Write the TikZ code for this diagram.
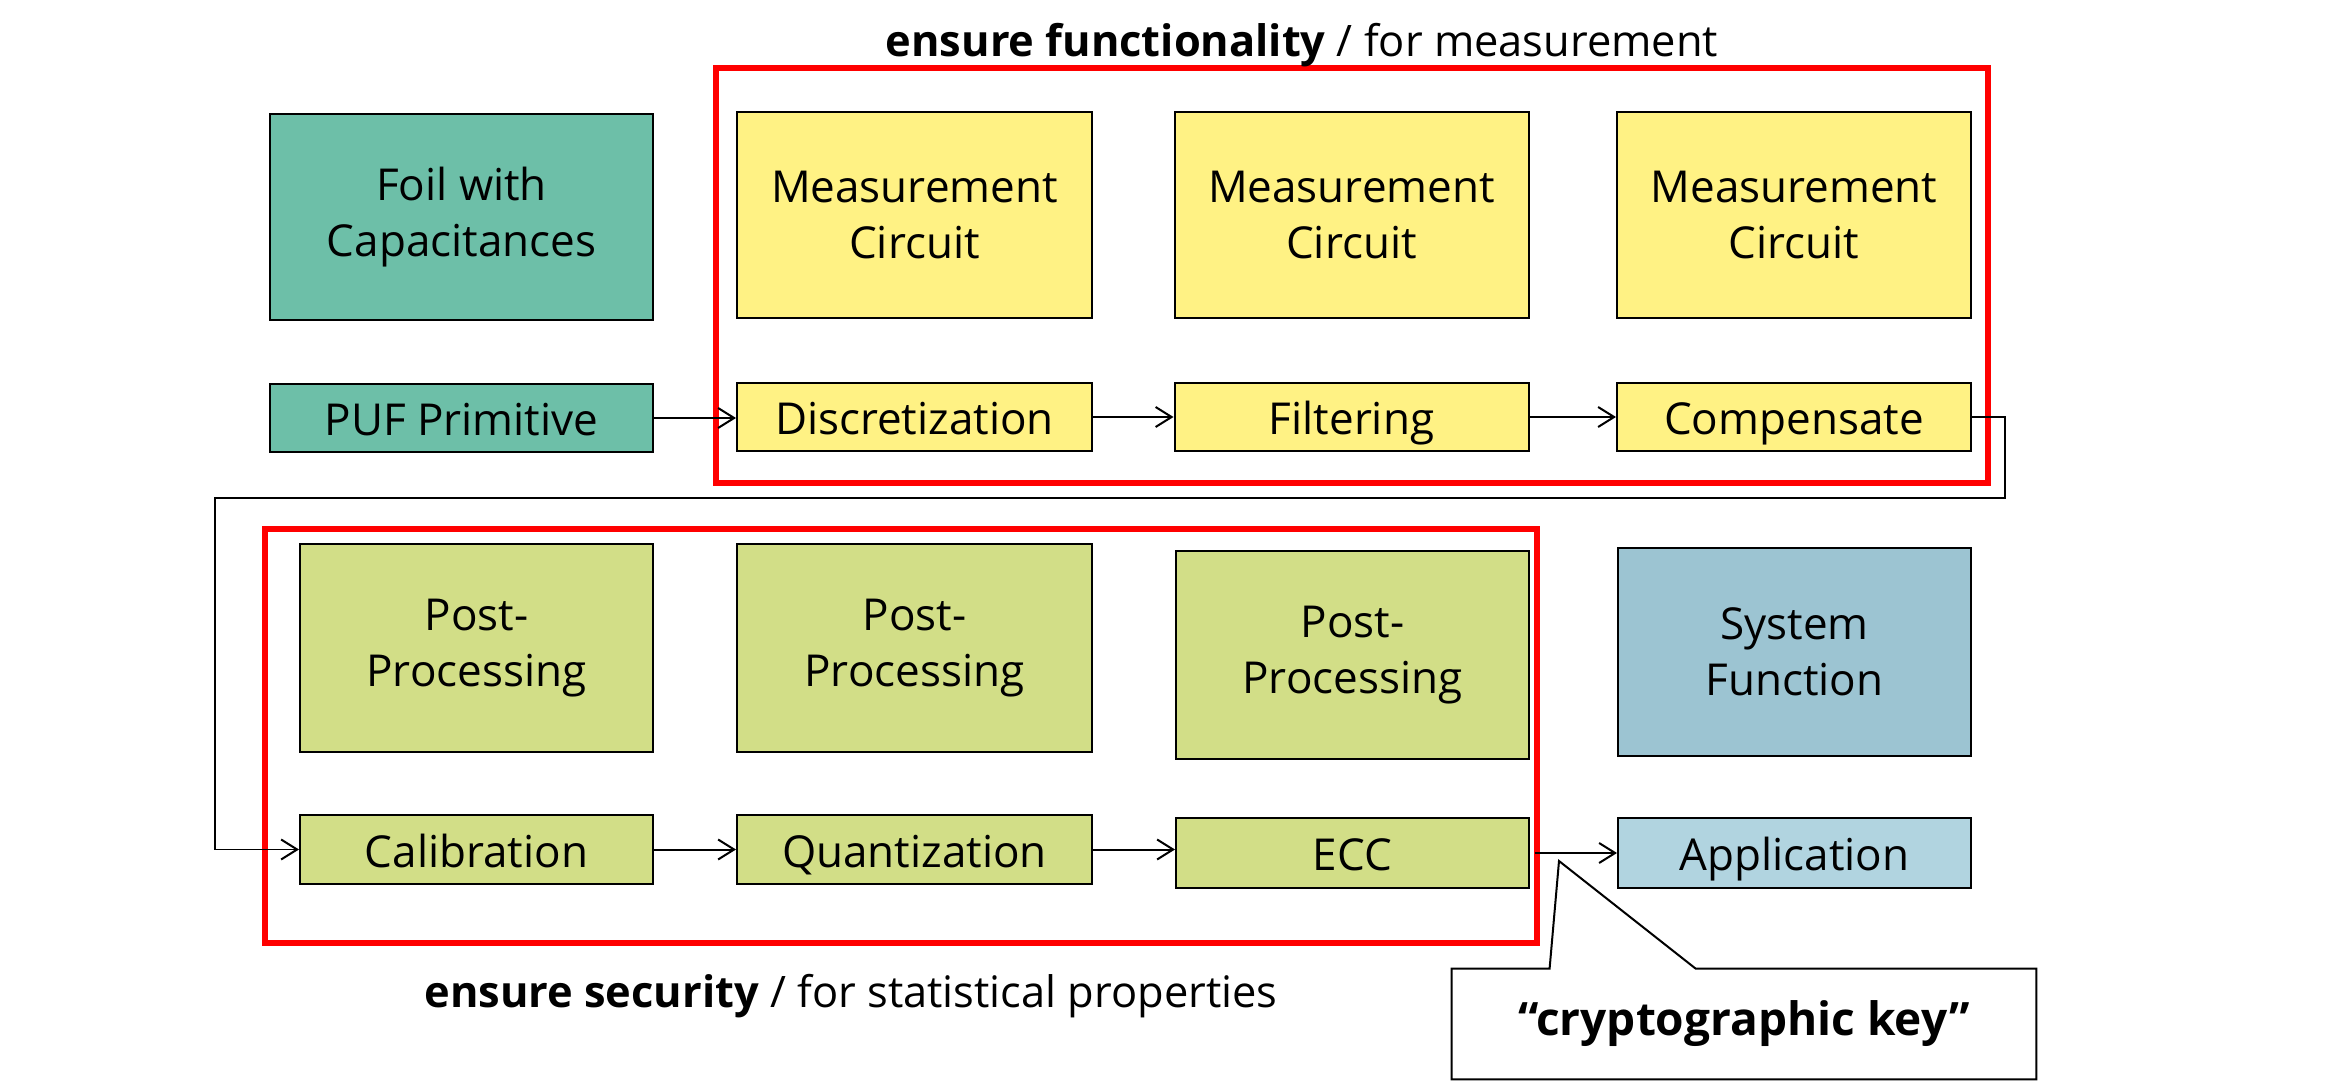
\documentclass[tikz,border=0pt]{standalone}
\usepackage{fontspec}
\setmainfont{Open Sans}
\usetikzlibrary{arrows.meta}
\definecolor{tealbox}{RGB}{109,191,168}
\definecolor{yellowbox}{RGB}{255,242,132}
\definecolor{greenbox}{RGB}{210,222,135}
\definecolor{bluebox}{RGB}{156,196,210}
\definecolor{lightblue}{RGB}{177,212,224}
\tikzset{
  box/.style={draw=black, line width=1pt, inner sep=0pt, align=center,
    font=\fontsize{22}{28}\selectfont},
  bigbox/.style={box, minimum height=103pt},
  smallbox/.style={box, minimum height=34pt, text height=22pt, text depth=4.5pt},
  conn/.style={line width=1pt, -{Straight Barb[length=8pt,width=10pt,line width=1pt]}},
  thinconn/.style={line width=0.8pt, -{Straight Barb[length=8pt,width=10pt,line width=1pt]}},
  group/.style={draw=red, line width=2.8pt},
  caption/.style={inner sep=0pt, anchor=base, font=\fontsize{21.7}{26}\selectfont},
}
\begin{document}
\begin{tikzpicture}[x=0.5pt,y=-0.5pt]
\useasboundingbox (0,0) rectangle (2326,1085);
% group frames
\draw[group] (716,68) rectangle (1988,483);
\draw[group] (265,529) rectangle (1537,943);
% captions
\node[caption] (cap1) at (1302,57) {\textbf{ensure functionality} / for measurement};
\node[caption] (cap2) at (851,1007) {\textbf{ensure security} / for statistical properties};
% top rows
\node[bigbox, fill=tealbox, minimum width=191.5pt] (foil) at (461.5,217) {Foil with\\Capacitances};
\node[smallbox, fill=tealbox, minimum width=191.5pt] (puf) at (461.5,418) {PUF Primitive};
\node[bigbox, fill=yellowbox, minimum width=177.5pt] (mc1) at (914.5,215) {Measurement\\Circuit};
\node[bigbox, fill=yellowbox, minimum width=177pt] (mc2) at (1351.5,215) {Measurement\\Circuit};
\node[bigbox, fill=yellowbox, minimum width=177pt] (mc3) at (1794,215) {Measurement\\Circuit};
\node[smallbox, fill=yellowbox, minimum width=177.5pt] (disc) at (914.5,417) {Discretization};
\node[smallbox, fill=yellowbox, minimum width=177pt] (filt) at (1351.5,417) {Filtering};
\node[smallbox, fill=yellowbox, minimum width=177pt] (comp) at (1794,417) {Compensate};
% bottom rows
\node[bigbox, fill=greenbox, minimum width=176.5pt, minimum height=104pt] (pp1) at (476.5,648) {Post-\\Processing};
\node[bigbox, fill=greenbox, minimum width=177.5pt, minimum height=104pt] (pp2) at (914.5,648) {Post-\\Processing};
\node[bigbox, fill=greenbox, minimum width=176.5pt, minimum height=104pt] (pp3) at (1352.5,655) {Post-\\Processing};
\node[bigbox, fill=bluebox, minimum width=176.5pt, minimum height=104pt] (sys) at (1794.5,652) {System\\Function};
\node[smallbox, fill=greenbox, minimum width=176.5pt, minimum height=34.5pt] (cal) at (476.5,849.5) {Calibration};
\node[smallbox, fill=greenbox, minimum width=177.5pt, minimum height=34.5pt] (quant) at (914.5,849.5) {Quantization};
\node[smallbox, fill=greenbox, minimum width=176.5pt, minimum height=35pt] (ecc) at (1352.5,853) {ECC};
\node[smallbox, fill=lightblue, minimum width=176.5pt, minimum height=35pt] (app) at (1794.5,853) {Application};
% connectors
\draw[conn] (puf.east) -- (disc.west |- puf.east);
\draw[conn] (disc) -- (filt);
\draw[conn] (filt) -- (comp);
\coordinate (r1) at (2005,498);
\coordinate (l1) at (215,498);
\draw[thinconn] (comp.east) -| (r1) -- (l1) |- (cal.west);
\draw[conn] (cal) -- (quant);
\draw[conn] (quant.east) -- (ecc.west |- quant.east);
\draw[thinconn] ([xshift=2.5pt]ecc.east) -- (app.west);
% callout
\node[inner sep=0pt, minimum width=292pt, minimum height=55pt,
  font=\bfseries\fontsize{23}{28}\selectfont] (key) at (1744,1024) {“cryptographic key”};
\coordinate (tip) at (1559,861);
\draw[line width=1pt, line join=miter] (key.north west) -- ([xshift=49pt]key.north west) -- (tip)
  -- ([xshift=122pt]key.north west) -- (key.north east) -- (key.south east)
  -- (key.south west) -- cycle;
\end{tikzpicture}
\end{document}
